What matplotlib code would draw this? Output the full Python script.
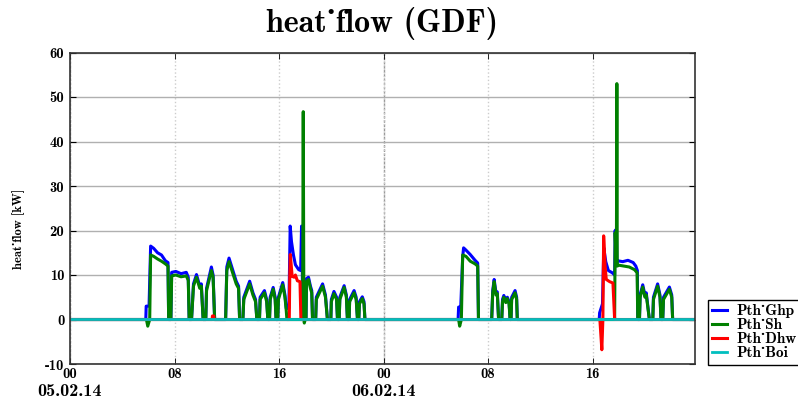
import matplotlib
matplotlib.use("Agg")
import matplotlib.pyplot as plt

plt.rcParams['font.family'] = 'cmb10'
plt.rcParams['axes.unicode_minus'] = False

# time in hours since 05.02.14 00:00
ghp_t = [0, 5.8, 5.83, 6.05, 6.17, 6.4, 6.7, 7.0, 7.3, 7.5, 7.55,
         7.72, 7.78, 8.1, 8.5, 8.9, 9.05, 9.12,
         9.3, 9.45, 9.68, 9.93, 10.05, 10.19,
         10.39, 10.45, 10.82, 10.95, 11.07,
         11.91, 12.0, 12.17, 12.47, 12.72, 12.9, 12.98,
         13.23, 13.3, 13.75, 14.0, 14.2, 14.3,
         14.5, 14.55, 14.88, 15.05, 15.14,
         15.27, 15.32, 15.55, 15.7, 15.77,
         15.9, 15.95, 16.28, 16.45, 16.55, 16.75, 16.85, 16.95, 17.1, 17.25, 17.5, 17.65, 17.72, 17.78, 17.8,
         18.06, 18.1, 18.25, 18.4, 18.5, 18.56,
         18.8, 18.85, 19.33, 19.55, 19.7,
         19.96, 20.0, 20.2, 20.4, 20.47,
         20.6, 20.65, 20.98, 21.15, 21.23,
         21.36, 21.4, 21.74, 21.9, 22.0,
         22.1, 22.15, 22.37, 22.5, 22.57,
         29.7, 29.74, 29.9, 30.05, 30.12, 30.3, 30.63, 31.0, 31.2, 31.26,
         32.27, 32.35, 32.46, 32.6, 32.7, 32.8,
         33.04, 33.1, 33.2, 33.35, 33.47, 33.6, 33.68,
         33.75, 33.8, 34.06, 34.18, 34.23,
         40.5, 40.53, 40.75, 40.85, 41.0, 41.2, 41.5, 41.68,
         41.72, 41.78, 41.82, 41.85, 41.88, 41.9, 42.3, 42.7, 43.1, 43.3, 43.42, 43.45,
         43.58, 43.63, 43.83, 44.0, 44.1, 44.34,
         44.6, 44.65, 44.97, 45.15, 45.23,
         45.36, 45.42, 45.87, 46.05, 46.12,
         47.83]
ghp_kw = [0, 0, 3.0, 3.0, 16.5, 16.0, 15.0, 14.5, 13.2, 12.8, 0,
          0, 10.6, 10.8, 10.3, 10.6, 9.5, 0,
          0, 8.0, 10.1, 7.5, 8.0, 0,
          0, 7.0, 11.8, 10.0, 0,
          0, 11.8, 13.8, 11.0, 8.6, 7.5, 0,
          0, 5.0, 8.6, 6.0, 4.5, 0,
          0, 5.0, 6.5, 4.5, 0,
          0, 5.0, 7.2, 5.0, 0,
          0, 5.0, 8.3, 5.5, 2.5, 2.5, 21.0, 17.5, 14.5, 12.3, 11.2, 11.0, 21.0, 11.0, 0,
          0, 9.2, 9.5, 7.5, 6.5, 0,
          0, 5.0, 8.0, 5.5, 0,
          0, 4.5, 6.3, 5.0, 0,
          0, 5.0, 7.6, 5.5, 0,
          0, 4.5, 6.5, 5.0, 0,
          0, 4.0, 5.1, 4.0, 0,
          0, 2.8, 2.6, 14.0, 16.1, 15.6, 14.6, 13.3, 12.7, 0,
          0, 6.5, 9.0, 6.0, 6.2, 0,
          0, 4.5, 5.4, 4.2, 5.0, 4.0, 0,
          0, 5.0, 6.5, 5.0, 0,
          0, 1.5, 3.5, 16.1, 13.0, 11.0, 10.5, 10.0,
          20.0, 14.5, 20.5, 13.5, 13.0, 13.2, 13.0, 13.3, 12.8, 12.0, 11.0, 0,
          0, 5.5, 7.8, 5.5, 6.0, 0,
          0, 5.0, 8.0, 5.5, 0,
          0, 5.0, 7.3, 5.5, 0,
          0]

sh_t = [0, 5.85, 5.95, 6.1, 6.17, 6.4, 6.7, 7.0, 7.3, 7.5, 7.55,
        7.72, 7.78, 8.1, 8.5, 8.9, 9.05, 9.12,
        9.3, 9.45, 9.68, 9.93, 10.05, 10.19,
        10.39, 10.45, 10.82, 10.95, 11.07,
        11.91, 12.0, 12.17, 12.47, 12.72, 12.9, 12.98,
        13.23, 13.3, 13.75, 14.0, 14.2, 14.3,
        14.5, 14.55, 14.88, 15.05, 15.14,
        15.27, 15.32, 15.55, 15.7, 15.77,
        15.9, 15.95, 16.28, 16.45, 16.55, 16.6,
        17.8, 17.85, 17.9, 17.93, 18.0,
        18.06, 18.1, 18.25, 18.4, 18.5, 18.56,
        18.8, 18.85, 19.33, 19.55, 19.7,
        19.96, 20.0, 20.2, 20.4, 20.47,
        20.6, 20.65, 20.98, 21.15, 21.23,
        21.36, 21.4, 21.74, 21.9, 22.0,
        22.1, 22.15, 22.37, 22.5, 22.57,
        29.74, 29.82, 29.95, 30.05, 30.3, 30.63, 31.0, 31.2, 31.26,
        32.27, 32.35, 32.46, 32.6, 32.7, 32.8,
        33.04, 33.1, 33.2, 33.35, 33.47, 33.6, 33.68,
        33.75, 33.8, 34.06, 34.18, 34.23,
        41.68, 41.72, 41.78, 41.82, 41.85, 41.88, 42.0, 42.4, 42.8, 43.2, 43.4, 43.45,
        43.58, 43.63, 43.83, 44.0, 44.1, 44.34,
        44.6, 44.65, 44.97, 45.15, 45.23,
        45.36, 45.42, 45.87, 46.05, 46.12,
        47.83]
sh_kw = [0, 0, -1.5, 0, 14.5, 14.2, 13.6, 13.1, 12.5, 12.0, 0,
         0, 9.8, 10.0, 9.6, 9.8, 8.8, 0,
         0, 7.5, 9.5, 7.0, 7.5, 0,
         0, 6.5, 11.0, 9.5, 0,
         0, 11.0, 13.0, 10.3, 8.0, 7.0, 0,
         0, 4.5, 8.0, 5.5, 4.0, 0,
         0, 4.5, 6.0, 4.0, 0,
         0, 4.5, 6.8, 4.5, 0,
         0, 4.5, 7.8, 5.0, 2.0, 0,
         0, 46.7, 0, -0.8, 0,
         0, 8.5, 9.0, 7.0, 6.0, 0,
         0, 4.5, 7.5, 5.0, 0,
         0, 4.0, 5.8, 4.5, 0,
         0, 4.5, 7.2, 5.0, 0,
         0, 4.0, 6.0, 4.5, 0,
         0, 3.5, 4.7, 3.5, 0,
         0, -1.5, 0, 14.5, 14.2, 13.1, 12.5, 12.0, 0,
         0, 6.0, 8.5, 5.5, 5.8, 0,
         0, 4.0, 5.0, 3.8, 4.7, 3.5, 0,
         0, 4.5, 6.0, 4.5, 0,
         0, 19.5, 14.0, 20.0, 53.0, 12.0, 12.2, 12.0, 11.8, 11.2, 10.5, 0,
         0, 5.0, 7.3, 5.0, 5.5, 0,
         0, 4.5, 7.5, 5.0, 0,
         0, 4.5, 6.8, 5.0, 0,
         0]

dhw_t = [0, 10.88, 10.9, 11.0, 11.02,
         16.78, 16.82, 16.86, 16.95, 17.0, 17.15, 17.25, 17.4, 17.6, 17.67,
         40.55, 40.7, 40.78, 40.84, 40.95, 41.04, 41.3, 41.55, 41.68,
         47.83]
dhw_kw = [0, 0, 0.8, 0.8, 0,
          0, 10.0, 14.6, 11.5, 9.7, 9.5, 10.0, 8.7, 8.5, 0,
          0, -6.8, 0, 18.8, 12.0, 9.0, 8.5, 8.2, 0,
          0]

boi_t = [0, 47.83]
boi_kw = [0, 0]

hour_ticks = [0, 8, 16, 24, 32, 40]
hour_labels = ['00', '08', '16', '00', '08', '16']
day_ticks = [0, 24]
day_labels = ['05.02.14', '06.02.14']

fig = plt.figure(figsize=(7.98, 4.0), dpi=100)
ax = fig.add_axes([70 / 798, 36 / 400, 625 / 798, 311.5 / 400])

ax.plot(ghp_t, ghp_kw, color='b', lw=2.2, label='Pth_Ghp')
ax.plot(sh_t, sh_kw, color='g', lw=2.2, label='Pth_Sh')
ax.plot(dhw_t, dhw_kw, color='r', lw=2.2, label='Pth_Dhw')
ax.plot(boi_t, boi_kw, color='c', lw=2.0, label='Pth_Boi', snap=False)

ax.set_xlim(0, 47.83)
ax.set_ylim(-10, 60)
ax.set_yticks(range(-10, 61, 10))

ax.xaxis.remove_overlapping_locs = False
ax.set_xticks(day_ticks)
ax.set_xticklabels(day_labels, fontsize=13)
ax.set_xticks(hour_ticks, minor=True)
ax.set_xticklabels(hour_labels, minor=True, fontsize=10.5)
ax.tick_params(axis='x', which='major', pad=14.5, length=0)
ax.tick_params(axis='x', which='minor', pad=2, length=4, direction='in', top=True)
ax.tick_params(axis='y', labelsize=10.5, direction='in', right=True, length=4, pad=4)

ax.grid(True, axis='y', color='#b0b0b0', lw=1, ls='-')
ax.grid(True, axis='x', which='minor', color='#cccccc', lw=1, ls=':')
ax.grid(True, axis='x', which='major', color='#999999', lw=1, ls=(0, (2, 1)))
ax.set_axisbelow(True)
for s in ax.spines.values():
    s.set_linewidth(1.2)
    s.set_color('#333333')

ax.set_ylabel('heat_flow [kW]', fontsize=9)
ax.yaxis.set_label_coords(-0.072, 0.433)
ax.set_title('heat_flow (GDF)', fontsize=23, pad=15)

ax.legend(loc='lower left', bbox_to_anchor=(1.02, -0.003), borderaxespad=0,
          fontsize=11, handlelength=1.0, handletextpad=0.6, labelspacing=0.0,
          borderpad=0.3, fancybox=False, framealpha=1, edgecolor='black')

fig.savefig('out.png', dpi=100)
